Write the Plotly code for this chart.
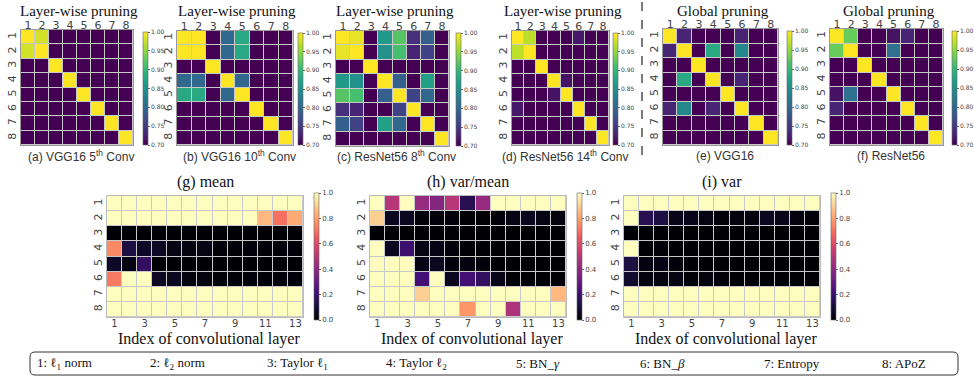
import plotly.graph_objects as go

W, H = 974, 381

# ---------------- data ----------------
methods = [1, 2, 3, 4, 5, 6, 7, 8]
layers = list(range(1, 14))
layer_ticks = [1, 3, 5, 7, 9, 11, 13]
bar_ticks_top = [0.70, 0.75, 0.80, 0.85, 0.90, 0.95, 1.00]
bar_ticks_bot = [0.0, 0.2, 0.4, 0.6, 0.8, 1.0]

vgg16_5th = [
    [1.00, 0.98, 0.70, 0.70, 0.70, 0.70, 0.70, 0.70],
    [0.98, 1.00, 0.70, 0.70, 0.70, 0.70, 0.70, 0.70],
    [0.70, 0.70, 1.00, 0.70, 0.70, 0.70, 0.70, 0.70],
    [0.70, 0.70, 0.70, 1.00, 0.70, 0.70, 0.70, 0.70],
    [0.70, 0.70, 0.70, 0.70, 1.00, 0.70, 0.70, 0.70],
    [0.70, 0.70, 0.70, 0.70, 0.70, 1.00, 0.70, 0.70],
    [0.70, 0.70, 0.70, 0.70, 0.70, 0.70, 1.00, 0.70],
    [0.70, 0.70, 0.70, 0.70, 0.70, 0.70, 0.70, 1.00],
]
vgg16_10th = [
    [1.00, 1.00, 0.70, 0.80, 0.88, 0.70, 0.70, 0.70],
    [1.00, 1.00, 0.70, 0.80, 0.88, 0.70, 0.70, 0.70],
    [0.70, 0.70, 1.00, 0.70, 0.70, 0.70, 0.70, 0.70],
    [0.80, 0.80, 0.70, 1.00, 0.80, 0.70, 0.70, 0.70],
    [0.88, 0.88, 0.70, 0.80, 1.00, 0.70, 0.70, 0.70],
    [0.70, 0.70, 0.70, 0.70, 0.70, 1.00, 0.70, 0.70],
    [0.70, 0.70, 0.70, 0.70, 0.70, 0.70, 1.00, 0.70],
    [0.70, 0.70, 0.70, 0.70, 0.70, 0.70, 0.70, 1.00],
]
resnet56_8th = [
    [1.00, 0.99, 0.70, 0.86, 0.92, 0.74, 0.79, 0.70],
    [0.99, 1.00, 0.70, 0.85, 0.91, 0.73, 0.76, 0.70],
    [0.70, 0.70, 1.00, 0.70, 0.70, 0.70, 0.70, 0.70],
    [0.86, 0.85, 0.70, 1.00, 0.79, 0.70, 0.87, 0.70],
    [0.92, 0.91, 0.70, 0.79, 1.00, 0.76, 0.80, 0.70],
    [0.74, 0.73, 0.70, 0.70, 0.76, 1.00, 0.70, 0.70],
    [0.79, 0.76, 0.70, 0.87, 0.80, 0.70, 1.00, 0.70],
    [0.70, 0.70, 0.70, 0.70, 0.70, 0.70, 0.70, 1.00],
]
resnet56_14th = [
    [1.00, 0.97, 0.70, 0.70, 0.70, 0.72, 0.70, 0.70],
    [0.97, 1.00, 0.70, 0.70, 0.70, 0.70, 0.70, 0.70],
    [0.70, 0.70, 1.00, 0.70, 0.70, 0.70, 0.70, 0.70],
    [0.70, 0.70, 0.70, 1.00, 0.715, 0.70, 0.70, 0.70],
    [0.70, 0.70, 0.70, 0.715, 1.00, 0.70, 0.70, 0.70],
    [0.72, 0.70, 0.70, 0.70, 0.70, 1.00, 0.70, 0.70],
    [0.70, 0.70, 0.70, 0.70, 0.70, 0.70, 1.00, 0.70],
    [0.70, 0.70, 0.70, 0.70, 0.70, 0.70, 0.70, 1.00],
]
global_vgg16 = [
    [1.00, 0.73, 0.70, 0.70, 0.70, 0.73, 0.70, 0.70],
    [0.73, 1.00, 0.70, 0.88, 0.70, 0.84, 0.70, 0.70],
    [0.70, 0.70, 1.00, 0.70, 0.70, 0.70, 0.70, 0.70],
    [0.70, 0.88, 0.70, 1.00, 0.70, 0.73, 0.70, 0.70],
    [0.70, 0.70, 0.70, 0.70, 1.00, 0.70, 0.70, 0.70],
    [0.73, 0.84, 0.70, 0.73, 0.70, 1.00, 0.70, 0.70],
    [0.70, 0.70, 0.70, 0.70, 0.70, 0.70, 1.00, 0.70],
    [0.70, 0.70, 0.70, 0.70, 0.70, 0.70, 0.70, 1.00],
]
global_resnet56 = [
    [1.00, 0.93, 0.70, 0.70, 0.715, 0.73, 0.70, 0.70],
    [0.93, 1.00, 0.70, 0.70, 0.81, 0.70, 0.70, 0.70],
    [0.70, 0.70, 1.00, 0.70, 0.70, 0.70, 0.70, 0.70],
    [0.70, 0.70, 0.70, 1.00, 0.70, 0.70, 0.70, 0.70],
    [0.715, 0.81, 0.70, 0.70, 1.00, 0.70, 0.70, 0.70],
    [0.73, 0.70, 0.70, 0.70, 0.70, 1.00, 0.70, 0.70],
    [0.70, 0.70, 0.70, 0.70, 0.70, 0.70, 1.00, 0.70],
    [0.70, 0.70, 0.70, 0.70, 0.70, 0.70, 0.70, 1.00],
]

stat_mean = [
    [1, 1, 1, 1, 1, 1, 1, 1, 1, 1, 1, 1, 1],
    [1, 1, 1, 1, 1, 1, 1, 1, 1, 1, 0.85, 0.70, 0.82],
    [0, 0, 0, 0, 0, 0, 0, 0, 0, 0, 0, 0, 0],
    [0.75, 0.12, 0.07, 0.06, 0.03, 0.02, 0.03, 0.01, 0.01, 0.01, 0.01, 0.01, 0.01],
    [0.07, 0.03, 0.18, 0.0, 0.0, 0.0, 0.0, 0.0, 0.0, 0.0, 0.0, 0.0, 0.0],
    [0.72, 1, 1, 0.06, 0.05, 0.02, 0.02, 0.01, 0.01, 0.01, 0.01, 0.01, 0.01],
    [1, 1, 1, 1, 1, 1, 1, 1, 1, 1, 1, 1, 1],
    [1, 1, 1, 1, 1, 1, 1, 1, 1, 1, 1, 1, 1],
]
stat_var_mean = [
    [1, 0.50, 1, 0.42, 0.38, 0.50, 0.15, 0.42, 1, 1, 1, 1, 1],
    [0.90, 0.05, 0.05, 0.01, 0.01, 0.01, 0.0, 0.0, 0.01, 0.03, 0.05, 0.03, 0.02],
    [0, 0, 0, 0, 0, 0, 0, 0, 0, 0, 0, 0, 0],
    [1, 0.05, 0.20, 0.03, 0.03, 0.01, 0.0, 0.0, 0.0, 0.0, 0.0, 0.0, 0.0],
    [1, 1, 1, 0.03, 0.05, 0.01, 0.02, 0.01, 0.0, 0.0, 0.0, 0.0, 0.0],
    [1, 1, 1, 0.22, 1, 0.05, 0.22, 0.18, 0.04, 0.0, 0.0, 0.0, 0.0],
    [1, 1, 1, 0.90, 1, 1, 1, 1, 1, 1, 1, 1, 0.85],
    [1, 1, 1, 1, 1, 1, 0.78, 1, 1, 0.48, 1, 1, 1],
]
stat_var = [
    [1, 1, 1, 1, 1, 1, 1, 1, 1, 1, 1, 1, 1],
    [1, 0.15, 0.12, 0.04, 0.04, 0.03, 0.01, 0.02, 0.02, 0.05, 0.04, 0.02, 0.01],
    [0, 0, 0, 0, 0, 0, 0, 0, 0, 0, 0, 0, 0],
    [1, 0.0, 0.01, 0.0, 0.0, 0.0, 0.0, 0.0, 0.0, 0.0, 0.0, 0.0, 0.0],
    [0.12, 0.02, 0.03, 0.01, 0.0, 0.0, 0.0, 0.0, 0.0, 0.0, 0.0, 0.0, 0.0],
    [0.08, 0.02, 0.02, 0.03, 0.01, 0.02, 0.01, 0.0, 0.0, 0.0, 0.0, 0.0, 0.0],
    [1, 1, 1, 1, 1, 1, 1, 1, 1, 1, 1, 1, 1],
    [1, 1, 1, 1, 1, 1, 1, 1, 1, 1, 1, 1, 1],
]

top_titles = ["Layer-wise pruning", "Layer-wise pruning", "Layer-wise pruning",
              "Layer-wise pruning", "Global pruning", "Global pruning"]
top_captions = ["(a) VGG16 5<sup>th</sup> Conv", "(b) VGG16 10<sup>th</sup> Conv",
                "(c) ResNet56 8<sup>th</sup> Conv", "(d) ResNet56 14<sup>th</sup> Conv",
                "(e) VGG16", "(f) ResNet56"]
bottom_titles = ["(g) mean", "(h) var/mean", "(i) var"]
x_label = "Index of convolutional layer"
legend_items = ["1: ℓ<sub>1</sub> norm", "2: ℓ<sub>2</sub> norm", "3: Taylor ℓ<sub>1</sub>",
                "4: Taylor ℓ<sub>2</sub>", "5: BN_<i>γ</i>", "6: BN_<i>β</i>",
                "7: Entropy", "8: APoZ"]

# ---------------- layout geometry (pixels) ----------------
top_boxes = [  # x0, x1, y0, y1, colorbar x
    (21, 133, 30, 145, 143),
    (177, 293, 31, 145, 298),
    (336, 449, 31, 146, 456),
    (512, 609, 31, 145, 613),
    (663, 778, 29, 145, 787),
    (830, 943, 29, 145, 952),
]
bot_boxes = [
    (107, 303, 196, 317, 314),
    (370, 566, 196, 317, 577),
    (624, 820, 196, 317, 831),
]
legend_x = [35, 148, 265, 384, 514, 638, 762, 880]

def PX(x):
    return x / W

def PY(y):
    return 1 - y / H

fig = go.Figure()
layout = {}
annotations = []
sans = "DejaVu Sans"
serif = "Liberation Serif"

def note(text, x, y, size, family, color="#111", xanchor="center"):
    annotations.append(dict(text=text, x=PX(x), y=PY(y), xref="paper", yref="paper",
                            xanchor=xanchor, yanchor="middle", showarrow=False,
                            font=dict(size=size, family=family, color=color)))

def cbar(x, y0, y1, ticks, fmt, size):
    return dict(x=PX(x), xanchor="left", xpad=0, ypad=0,
                y=PY((y0 + y1) / 2), yanchor="middle",
                len=(y1 - y0) / H, lenmode="fraction", thickness=5,
                outlinewidth=0.6, outlinecolor="#666",
                tickvals=ticks, tickformat=fmt, ticks="outside",
                ticklen=2, tickcolor="#666",
                tickfont=dict(size=size, color="#444", family=sans))

top_data = [vgg16_5th, vgg16_10th, resnet56_8th, resnet56_14th, global_vgg16, global_resnet56]
for i, (z, box) in enumerate(zip(top_data, top_boxes)):
    x0, x1, y0, y1, cbx = box
    n = i + 1
    xa = "x" if n == 1 else f"x{n}"
    ya = "y" if n == 1 else f"y{n}"
    fig.add_trace(go.Heatmap(
        z=z, x=methods, y=methods, xaxis=xa, yaxis=ya,
        colorscale="Viridis", zmin=0.70, zmax=1.0, xgap=1, ygap=1,
        colorbar=cbar(cbx, y0 + 2, y1, bar_ticks_top, ".2f", 6),
    ))
    layout["xaxis" if n == 1 else f"xaxis{n}"] = dict(
        domain=[PX(x0), PX(x1)], anchor=ya, side="top", tickvals=methods,
        range=[0.5, 8.5], showgrid=False, zeroline=False, ticks="", ticklabelstandoff=-4,
        showline=True, mirror=True, linecolor="#999", linewidth=1,
        tickfont=dict(size=11, color="#444", family=sans))
    layout["yaxis" if n == 1 else f"yaxis{n}"] = dict(
        domain=[PY(y1), PY(y0)], anchor=xa, tickvals=methods,
        range=[8.5, 0.5], showgrid=False, zeroline=False, ticks="", tickangle=-90,
        showline=True, mirror=True, linecolor="#999", linewidth=1,
        tickfont=dict(size=11, color="#444", family=sans))
    cx = (x0 + x1) / 2
    note(top_titles[i], cx + 2, 11, 15, serif)
    note(top_captions[i], cx + 4, 156, 12, "Liberation Sans", "#333")

bot_data = [stat_mean, stat_var_mean, stat_var]
for j, (z, box) in enumerate(zip(bot_data, bot_boxes)):
    x0, x1, y0, y1, cbx = box
    n = 7 + j
    xa, ya = f"x{n}", f"y{n}"
    fig.add_trace(go.Heatmap(
        z=z, x=layers, y=methods, xaxis=xa, yaxis=ya,
        colorscale="Magma", zmin=0.0, zmax=1.0, xgap=1, ygap=1,
        colorbar=cbar(cbx, y0 - 3, y1 + 3, bar_ticks_bot, ".1f", 7),
    ))
    layout[f"xaxis{n}"] = dict(
        domain=[PX(x0), PX(x1)], anchor=ya, side="bottom", tickvals=layer_ticks,
        range=[0.5, 13.5], showgrid=False, zeroline=False, ticks="", ticklabelstandoff=-3,
        showline=True, mirror=True, linecolor="#bbb", linewidth=1,
        tickfont=dict(size=10, color="#444", family=sans))
    layout[f"yaxis{n}"] = dict(
        domain=[PY(y1), PY(y0)], anchor=xa, tickvals=methods,
        range=[8.5, 0.5], showgrid=False, zeroline=False, ticks="", tickangle=-90,
        showline=True, mirror=True, linecolor="#bbb", linewidth=1,
        tickfont=dict(size=11, color="#444", family=sans))
    cx = (x0 + x1) / 2
    note(bottom_titles[j], cx, 182, 16, serif)
    note(x_label, cx + 4, 339, 16, serif)

for t, lx in zip(legend_items, legend_x):
    note(t, lx, 363, 13, serif, xanchor="left")

# rounded legend frame
bx0, bx1, by0, by1, r = 30, 958, 352, 375, 5
path = (f"M {PX(bx0 + r)},{PY(by0)} L {PX(bx1 - r)},{PY(by0)} "
        f"Q {PX(bx1)},{PY(by0)} {PX(bx1)},{PY(by0 + r)} "
        f"L {PX(bx1)},{PY(by1 - r)} Q {PX(bx1)},{PY(by1)} {PX(bx1 - r)},{PY(by1)} "
        f"L {PX(bx0 + r)},{PY(by1)} Q {PX(bx0)},{PY(by1)} {PX(bx0)},{PY(by1 - r)} "
        f"L {PX(bx0)},{PY(by0 + r)} Q {PX(bx0)},{PY(by0)} {PX(bx0 + r)},{PY(by0)} Z")
shapes = [
    dict(type="path", path=path, xref="paper", yref="paper",
         line=dict(color="#333", width=1)),
    dict(type="line", x0=PX(642), x1=PX(642), y0=PY(2), y1=PY(162), xref="paper", yref="paper",
         line=dict(color="#333", width=1.3, dash="dash")),
]

fig.update_layout(
    width=W, height=H, margin=dict(l=0, r=0, t=0, b=0, autoexpand=False),
    paper_bgcolor="white", plot_bgcolor="#c9c9c9",
    showlegend=False, annotations=annotations, shapes=shapes, **layout,
)

fig.write_html("out.html", config={"displayModeBar": False},
               post_script="document.body.style.margin='0px';")
